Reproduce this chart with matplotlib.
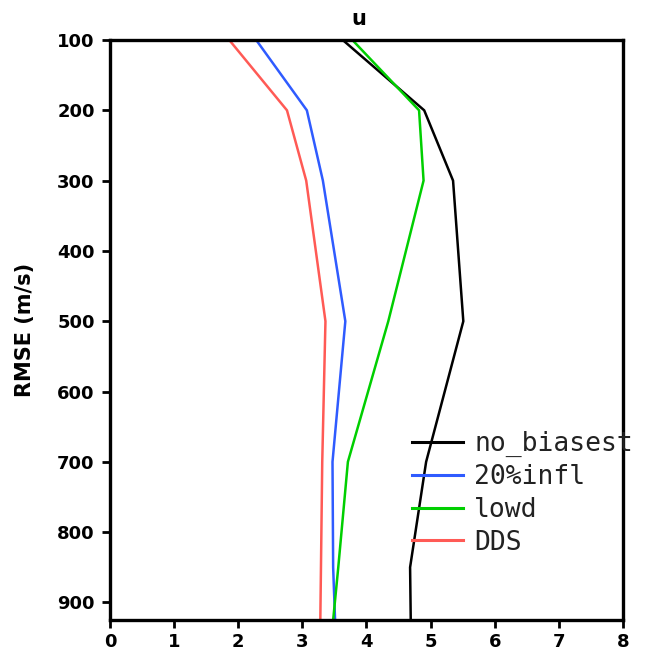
#!/usr/bin/env python
import numpy as np
import matplotlib
matplotlib.use('Agg')
import matplotlib.pyplot as plt

# pressure levels (hPa) and rmse for u
levels = [100, 200, 300, 500, 700, 850, 925]
no_biasest = [3.63, 4.90, 5.35, 5.51, 4.93, 4.68, 4.69]
infl20 = [2.28, 3.07, 3.32, 3.67, 3.47, 3.48, 3.51]
lowd = [3.78, 4.82, 4.89, 4.34, 3.71, 3.56, 3.48]
dds = [1.86, 2.76, 3.06, 3.36, 3.31, 3.29, 3.28]

names = ['no_biasest', '20%infl', 'lowd', 'DDS']
colors = ['#000000', '#2f5bff', '#00cf00', '#ff5a55']
xticks = [0, 1, 2, 3, 4, 5, 6, 7, 8]
yticks = [100, 200, 300, 400, 500, 600, 700, 800, 900]

fig = plt.figure(figsize=(6.52, 6.55), dpi=100)
ax = fig.add_axes([0.1687, 0.0534, 0.7868, 0.8855])

for vals, name, c in zip([no_biasest, infl20, lowd, dds], names, colors):
    ax.plot(vals, levels, color=c, lw=1.8, label=name)

ax.set_xlim(0, 8)
ax.set_ylim(925, 100)
ax.set_xticks(xticks)
ax.set_yticks(yticks)
ax.tick_params(direction='out', length=6, width=2, labelsize=13, pad=5)
ax.tick_params(axis='x', pad=3)
for lab in ax.get_xticklabels() + ax.get_yticklabels():
    lab.set_fontweight('bold')
for sp in ax.spines.values():
    sp.set_linewidth(2.4)

ax.set_title('u', fontsize=15, fontweight='bold', pad=11, x=0.485)
ax.set_ylabel('RMSE (m/s)', fontsize=15, fontweight='bold')
ax.yaxis.set_label_coords(-0.146, 0.5)

leg = ax.legend(loc='upper left', bbox_to_anchor=(412 / 652, 1 - 431 / 655),
                bbox_transform=fig.transFigure, frameon=False,
                prop={'family': 'DejaVu Sans Mono', 'size': 19},
                handlelength=1.95, handletextpad=0.4, labelspacing=0.26,
                borderpad=0, borderaxespad=0)
for line in leg.get_lines():
    line.set_linewidth(2.2)
for t in leg.get_texts():
    t.set_color('#222222')

fig.savefig('out.png', dpi=100)
